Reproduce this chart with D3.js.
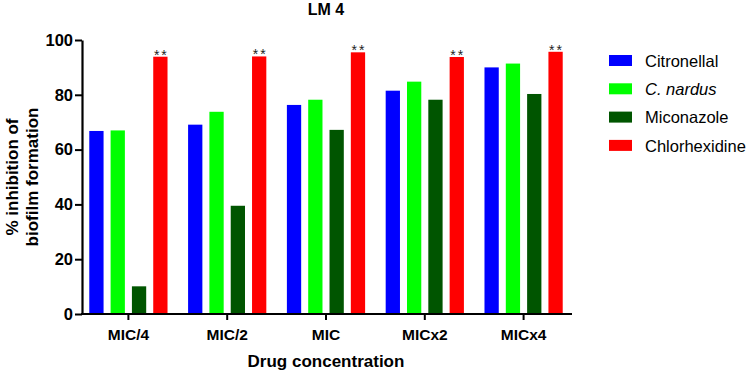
<!DOCTYPE html>
<html>
<head>
<meta charset="utf-8">
<script src="https://cdn.jsdelivr.net/npm/d3@7"></script>
<style>
  body { margin: 0; background: #fff; }
  text { font-family: "Liberation Sans", Arial, sans-serif; }
</style>
</head>
<body>
<svg id="chart"></svg>
<script>
// data
const concentrations = ["MIC/4", "MIC/2", "MIC", "MICx2", "MICx4"];
const seriesNames = ["Citronellal", "C. nardus", "Miconazole", "Chlorhexidine"];
const citronellal = [66.8, 69.1, 76.3, 81.5, 90.0];
const cNardus = [67.0, 73.8, 78.2, 84.8, 91.4];
const miconazole = [10.1, 39.5, 67.2, 78.2, 80.3];
const chlorhexidine = [93.9, 94.0, 95.5, 93.8, 95.7];
const yTicks = [0, 20, 40, 60, 80, 100];
const colors = ["#0000ff", "#00ff00", "#005500", "#ff0000"];

const seriesValues = [citronellal, cNardus, miconazole, chlorhexidine];
const rows = concentrations.map((c, i) => ({
  conc: c,
  vals: seriesNames.map((s, j) => ({ series: s, value: seriesValues[j][i], idx: j }))
}));

const width = 751, height = 371;
const svg = d3.select("#chart").attr("width", width).attr("height", height);

// scales
const x0 = d3.scaleBand()
  .domain(concentrations)
  .range([79, 573])
  .paddingInner(0.137)
  .paddingOuter(0.0685);

const x1 = d3.scaleBand()
  .domain(seriesNames)
  .range([0, x0.bandwidth()])
  .paddingInner(0.33)
  .paddingOuter(0.165);

const y = d3.scaleLinear().domain([0, 100]).range([314, 40]);

// bars
const groups = svg.append("g").selectAll("g")
  .data(rows)
  .join("g")
  .attr("transform", d => `translate(${x0(d.conc)},0)`);

groups.selectAll("rect")
  .data(d => d.vals)
  .join("rect")
  .attr("x", d => x1(d.series))
  .attr("y", d => y(d.value))
  .attr("width", x1.bandwidth())
  .attr("height", d => y(0) - y(d.value))
  .attr("fill", d => colors[d.idx]);

// significance stars over chlorhexidine
groups.append("text")
  .attr("x", x1("Chlorhexidine") + x1.bandwidth() / 2 + 1)
  .attr("y", d => y(d.vals[3].value) + 3)
  .attr("text-anchor", "middle")
  .style("font-size", "14px")
  .style("letter-spacing", "2px")
  .style("fill", "#222")
  .text("**");

// axes
const xAxis = svg.append("g")
  .attr("transform", `translate(0,${y(0)})`)
  .call(d3.axisBottom(x0).tickSize(6).tickSizeOuter(0));
xAxis.select(".domain").attr("stroke-width", 2.2).attr("d", `M81,0H572`);
xAxis.selectAll(".tick line").attr("stroke-width", 2);
xAxis.selectAll(".tick text")
  .attr("dy", null)
  .attr("y", 26)
  .style("font-size", "15.5px")
  .style("font-weight", "bold")
  .style("font-family", "'Liberation Sans', Arial, sans-serif");

const yAxis = svg.append("g")
  .attr("transform", "translate(82,0)")
  .call(d3.axisLeft(y).tickValues(yTicks).tickSize(7).tickSizeOuter(0));
yAxis.select(".domain").attr("stroke-width", 2.2);
yAxis.selectAll(".tick line").attr("stroke-width", 2);
yAxis.selectAll(".tick text")
  .attr("x", -9)
  .style("font-size", "16.5px")
  .style("font-weight", "bold")
  .style("font-family", "'Liberation Sans', Arial, sans-serif");

// title
svg.append("text")
  .attr("x", 326)
  .attr("y", 15)
  .attr("text-anchor", "middle")
  .style("font-size", "16px")
  .style("font-weight", "bold")
  .text("LM 4");

// axis titles
svg.append("text")
  .attr("x", 326)
  .attr("y", 367)
  .attr("text-anchor", "middle")
  .style("font-size", "17px")
  .style("font-weight", "bold")
  .text("Drug concentration");

const yTitle = svg.append("text")
  .attr("transform", `translate(0,177) rotate(-90)`)
  .attr("text-anchor", "middle")
  .style("font-size", "17px")
  .style("font-weight", "bold");
yTitle.append("tspan").attr("x", 0).attr("y", 18).text("% inhibition of");
yTitle.append("tspan").attr("x", 0).attr("y", 38).text("biofilm formation");

// legend
const legend = svg.append("g").selectAll("g")
  .data(seriesNames)
  .join("g")
  .attr("transform", (d, i) => `translate(609,${55 + i * 28.3})`);

legend.append("rect")
  .attr("width", 23)
  .attr("height", 11)
  .attr("fill", (d, i) => colors[i]);

legend.append("text")
  .attr("x", 36)
  .attr("y", 6)
  .attr("dy", "0.35em")
  .style("font-size", "16.5px")
  .style("font-style", (d, i) => i === 1 ? "italic" : "normal")
  .text(d => d);
</script>
</body>
</html>
